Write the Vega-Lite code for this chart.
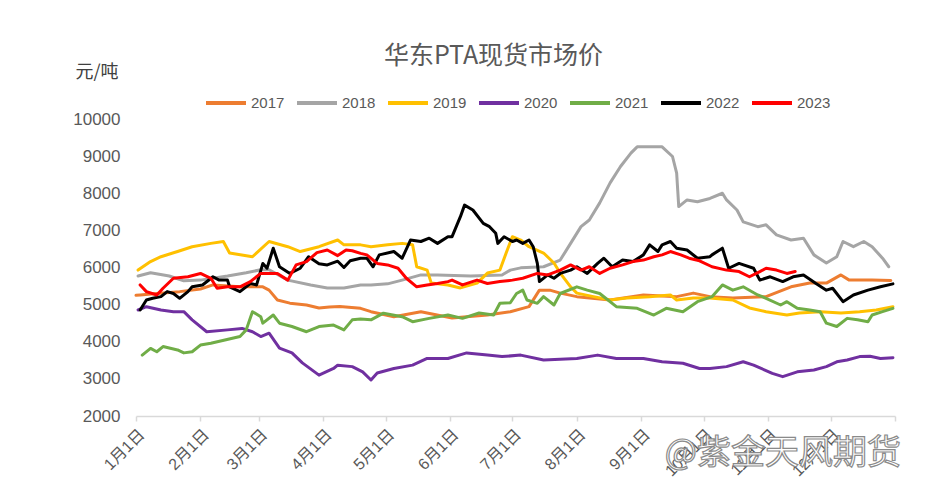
{
  "$schema": "https://vega.github.io/schema/vega-lite/v6.json",
  "autosize": {"type": "none"},
  "width": 759,
  "height": 297,
  "padding": {"left": 136, "top": 119, "right": 43, "bottom": 84},
  "background": "#ffffff",
  "title": {
    "text": "华东PTA现货市场价",
    "font": "Noto Sans CJK SC",
    "fontSize": 25,
    "fontWeight": "normal",
    "color": "#595959",
    "anchor": "middle",
    "frame": "group",
    "dx": -22,
    "offset": -6
  },
  "config": {
    "view": {"stroke": null},
    "font": "Liberation Sans, Noto Sans CJK SC",
    "legend": {
      "orient": "none",
      "legendX": 68,
      "legendY": -38,
      "direction": "horizontal",
      "title": null,
      "symbolType": "stroke",
      "symbolSize": 1600,
      "symbolStrokeWidth": 4,
      "labelFont": "Liberation Sans",
      "labelFontSize": 15,
      "labelColor": "#595959",
      "labelOffset": 3,
      "columnPadding": 4
    }
  },
  "resolve": {"axis": {"x": "independent", "y": "independent"}},
  "datasets": {
    "prices": [
      {"series": "2017", "day": 0, "price": 5250}, {"series": "2017", "day": 2, "price": 5260}, {"series": "2017", "day": 10, "price": 5300}, {"series": "2017", "day": 21, "price": 5350}, {"series": "2017", "day": 31, "price": 5420}, {"series": "2017", "day": 37, "price": 5530}, {"series": "2017", "day": 50, "price": 5480}, {"series": "2017", "day": 61, "price": 5480}, {"series": "2017", "day": 64, "price": 5390}, {"series": "2017", "day": 68, "price": 5125}, {"series": "2017", "day": 74, "price": 5040}, {"series": "2017", "day": 82, "price": 4990}, {"series": "2017", "day": 88, "price": 4910}, {"series": "2017", "day": 93, "price": 4935}, {"series": "2017", "day": 98, "price": 4950}, {"series": "2017", "day": 108, "price": 4900}, {"series": "2017", "day": 113, "price": 4810}, {"series": "2017", "day": 124, "price": 4675}, {"series": "2017", "day": 137, "price": 4810}, {"series": "2017", "day": 152, "price": 4640}, {"series": "2017", "day": 169, "price": 4720}, {"series": "2017", "day": 180, "price": 4810}, {"series": "2017", "day": 189, "price": 4945}, {"series": "2017", "day": 194, "price": 5390}, {"series": "2017", "day": 199, "price": 5390}, {"series": "2017", "day": 204, "price": 5310}, {"series": "2017", "day": 212, "price": 5215}, {"series": "2017", "day": 228, "price": 5125}, {"series": "2017", "day": 244, "price": 5260}, {"series": "2017", "day": 260, "price": 5215}, {"series": "2017", "day": 268, "price": 5310}, {"series": "2017", "day": 276, "price": 5215}, {"series": "2017", "day": 287, "price": 5180}, {"series": "2017", "day": 303, "price": 5215}, {"series": "2017", "day": 315, "price": 5480}, {"series": "2017", "day": 324, "price": 5580}, {"series": "2017", "day": 332, "price": 5580}, {"series": "2017", "day": 339, "price": 5800}, {"series": "2017", "day": 343, "price": 5660}, {"series": "2017", "day": 354, "price": 5660}, {"series": "2017", "day": 363, "price": 5650},

      {"series": "2018", "day": 1, "price": 5770}, {"series": "2018", "day": 7, "price": 5860}, {"series": "2018", "day": 16, "price": 5770}, {"series": "2018", "day": 23, "price": 5640}, {"series": "2018", "day": 31, "price": 5660}, {"series": "2018", "day": 44, "price": 5770}, {"series": "2018", "day": 53, "price": 5860}, {"series": "2018", "day": 60, "price": 5940}, {"series": "2018", "day": 64, "price": 5940}, {"series": "2018", "day": 73, "price": 5660}, {"series": "2018", "day": 84, "price": 5530}, {"series": "2018", "day": 92, "price": 5450}, {"series": "2018", "day": 100, "price": 5450}, {"series": "2018", "day": 108, "price": 5530}, {"series": "2018", "day": 113, "price": 5530}, {"series": "2018", "day": 121, "price": 5560}, {"series": "2018", "day": 128, "price": 5660}, {"series": "2018", "day": 137, "price": 5800}, {"series": "2018", "day": 145, "price": 5800}, {"series": "2018", "day": 161, "price": 5770}, {"series": "2018", "day": 176, "price": 5800}, {"series": "2018", "day": 180, "price": 5930}, {"series": "2018", "day": 185, "price": 5990}, {"series": "2018", "day": 196, "price": 6020}, {"series": "2018", "day": 204, "price": 6200}, {"series": "2018", "day": 209, "price": 6650}, {"series": "2018", "day": 214, "price": 7100}, {"series": "2018", "day": 218, "price": 7280}, {"series": "2018", "day": 223, "price": 7740}, {"series": "2018", "day": 228, "price": 8280}, {"series": "2018", "day": 233, "price": 8720}, {"series": "2018", "day": 238, "price": 9080}, {"series": "2018", "day": 241, "price": 9250}, {"series": "2018", "day": 253, "price": 9250}, {"series": "2018", "day": 258, "price": 8990}, {"series": "2018", "day": 260, "price": 8540}, {"series": "2018", "day": 261, "price": 7640}, {"series": "2018", "day": 265, "price": 7820}, {"series": "2018", "day": 270, "price": 7770}, {"series": "2018", "day": 276, "price": 7860}, {"series": "2018", "day": 282, "price": 8000}, {"series": "2018", "day": 284, "price": 7820}, {"series": "2018", "day": 289, "price": 7550}, {"series": "2018", "day": 292, "price": 7230}, {"series": "2018", "day": 299, "price": 7100}, {"series": "2018", "day": 303, "price": 7150}, {"series": "2018", "day": 308, "price": 6880}, {"series": "2018", "day": 315, "price": 6740}, {"series": "2018", "day": 321, "price": 6790}, {"series": "2018", "day": 326, "price": 6340}, {"series": "2018", "day": 332, "price": 6120}, {"series": "2018", "day": 337, "price": 6290}, {"series": "2018", "day": 340, "price": 6700}, {"series": "2018", "day": 345, "price": 6560}, {"series": "2018", "day": 350, "price": 6700}, {"series": "2018", "day": 354, "price": 6560}, {"series": "2018", "day": 359, "price": 6250}, {"series": "2018", "day": 362, "price": 6020},

      {"series": "2019", "day": 1, "price": 5930}, {"series": "2019", "day": 7, "price": 6160}, {"series": "2019", "day": 12, "price": 6290}, {"series": "2019", "day": 20, "price": 6430}, {"series": "2019", "day": 27, "price": 6560}, {"series": "2019", "day": 36, "price": 6650}, {"series": "2019", "day": 42, "price": 6700}, {"series": "2019", "day": 45, "price": 6390}, {"series": "2019", "day": 56, "price": 6290}, {"series": "2019", "day": 64, "price": 6700}, {"series": "2019", "day": 73, "price": 6560}, {"series": "2019", "day": 79, "price": 6430}, {"series": "2019", "day": 88, "price": 6560}, {"series": "2019", "day": 97, "price": 6740}, {"series": "2019", "day": 100, "price": 6610}, {"series": "2019", "day": 108, "price": 6610}, {"series": "2019", "day": 113, "price": 6560}, {"series": "2019", "day": 121, "price": 6610}, {"series": "2019", "day": 128, "price": 6650}, {"series": "2019", "day": 133, "price": 6610}, {"series": "2019", "day": 135, "price": 6020}, {"series": "2019", "day": 140, "price": 5930}, {"series": "2019", "day": 142, "price": 5580}, {"series": "2019", "day": 150, "price": 5530}, {"series": "2019", "day": 156, "price": 5450}, {"series": "2019", "day": 164, "price": 5580}, {"series": "2019", "day": 169, "price": 5850}, {"series": "2019", "day": 175, "price": 5930}, {"series": "2019", "day": 178, "price": 6390}, {"series": "2019", "day": 181, "price": 6830}, {"series": "2019", "day": 185, "price": 6740}, {"series": "2019", "day": 189, "price": 6560}, {"series": "2019", "day": 196, "price": 6390}, {"series": "2019", "day": 201, "price": 6120}, {"series": "2019", "day": 204, "price": 5850}, {"series": "2019", "day": 209, "price": 5480}, {"series": "2019", "day": 212, "price": 5310}, {"series": "2019", "day": 220, "price": 5215}, {"series": "2019", "day": 228, "price": 5125}, {"series": "2019", "day": 236, "price": 5180}, {"series": "2019", "day": 247, "price": 5215}, {"series": "2019", "day": 257, "price": 5260}, {"series": "2019", "day": 260, "price": 5125}, {"series": "2019", "day": 268, "price": 5180}, {"series": "2019", "day": 276, "price": 5180}, {"series": "2019", "day": 287, "price": 5125}, {"series": "2019", "day": 295, "price": 4910}, {"series": "2019", "day": 303, "price": 4810}, {"series": "2019", "day": 313, "price": 4720}, {"series": "2019", "day": 319, "price": 4775}, {"series": "2019", "day": 329, "price": 4810}, {"series": "2019", "day": 339, "price": 4775}, {"series": "2019", "day": 348, "price": 4810}, {"series": "2019", "day": 356, "price": 4855}, {"series": "2019", "day": 364, "price": 4945},

      {"series": "2020", "day": 1, "price": 4855}, {"series": "2020", "day": 5, "price": 4945}, {"series": "2020", "day": 12, "price": 4855}, {"series": "2020", "day": 18, "price": 4810}, {"series": "2020", "day": 23, "price": 4810}, {"series": "2020", "day": 27, "price": 4590}, {"series": "2020", "day": 34, "price": 4270}, {"series": "2020", "day": 44, "price": 4320}, {"series": "2020", "day": 51, "price": 4360}, {"series": "2020", "day": 56, "price": 4270}, {"series": "2020", "day": 60, "price": 4140}, {"series": "2020", "day": 64, "price": 4230}, {"series": "2020", "day": 69, "price": 3830}, {"series": "2020", "day": 75, "price": 3700}, {"series": "2020", "day": 80, "price": 3430}, {"series": "2020", "day": 88, "price": 3100}, {"series": "2020", "day": 95, "price": 3280}, {"series": "2020", "day": 97, "price": 3370}, {"series": "2020", "day": 104, "price": 3330}, {"series": "2020", "day": 109, "price": 3190}, {"series": "2020", "day": 113, "price": 2970}, {"series": "2020", "day": 116, "price": 3160}, {"series": "2020", "day": 124, "price": 3280}, {"series": "2020", "day": 133, "price": 3370}, {"series": "2020", "day": 140, "price": 3550}, {"series": "2020", "day": 150, "price": 3550}, {"series": "2020", "day": 159, "price": 3700}, {"series": "2020", "day": 169, "price": 3640}, {"series": "2020", "day": 176, "price": 3600}, {"series": "2020", "day": 185, "price": 3640}, {"series": "2020", "day": 196, "price": 3510}, {"series": "2020", "day": 212, "price": 3550}, {"series": "2020", "day": 222, "price": 3640}, {"series": "2020", "day": 231, "price": 3550}, {"series": "2020", "day": 244, "price": 3550}, {"series": "2020", "day": 253, "price": 3460}, {"series": "2020", "day": 263, "price": 3420}, {"series": "2020", "day": 271, "price": 3280}, {"series": "2020", "day": 276, "price": 3280}, {"series": "2020", "day": 284, "price": 3330}, {"series": "2020", "day": 292, "price": 3460}, {"series": "2020", "day": 297, "price": 3370}, {"series": "2020", "day": 306, "price": 3150}, {"series": "2020", "day": 311, "price": 3060}, {"series": "2020", "day": 318, "price": 3190}, {"series": "2020", "day": 326, "price": 3240}, {"series": "2020", "day": 332, "price": 3330}, {"series": "2020", "day": 337, "price": 3460}, {"series": "2020", "day": 342, "price": 3510}, {"series": "2020", "day": 348, "price": 3600}, {"series": "2020", "day": 353, "price": 3610}, {"series": "2020", "day": 358, "price": 3550}, {"series": "2020", "day": 364, "price": 3570},

      {"series": "2021", "day": 3, "price": 3640}, {"series": "2021", "day": 7, "price": 3820}, {"series": "2021", "day": 10, "price": 3730}, {"series": "2021", "day": 13, "price": 3870}, {"series": "2021", "day": 20, "price": 3780}, {"series": "2021", "day": 23, "price": 3700}, {"series": "2021", "day": 27, "price": 3730}, {"series": "2021", "day": 31, "price": 3910}, {"series": "2021", "day": 36, "price": 3960}, {"series": "2021", "day": 50, "price": 4140}, {"series": "2021", "day": 53, "price": 4320}, {"series": "2021", "day": 56, "price": 4810}, {"series": "2021", "day": 60, "price": 4675}, {"series": "2021", "day": 61, "price": 4500}, {"series": "2021", "day": 66, "price": 4720}, {"series": "2021", "day": 69, "price": 4500}, {"series": "2021", "day": 75, "price": 4410}, {"series": "2021", "day": 82, "price": 4270}, {"series": "2021", "day": 88, "price": 4410}, {"series": "2021", "day": 95, "price": 4450}, {"series": "2021", "day": 100, "price": 4320}, {"series": "2021", "day": 104, "price": 4590}, {"series": "2021", "day": 108, "price": 4610}, {"series": "2021", "day": 113, "price": 4590}, {"series": "2021", "day": 119, "price": 4770}, {"series": "2021", "day": 128, "price": 4675}, {"series": "2021", "day": 133, "price": 4540}, {"series": "2021", "day": 141, "price": 4630}, {"series": "2021", "day": 150, "price": 4720}, {"series": "2021", "day": 157, "price": 4630}, {"series": "2021", "day": 165, "price": 4775}, {"series": "2021", "day": 172, "price": 4720}, {"series": "2021", "day": 175, "price": 5035}, {"series": "2021", "day": 180, "price": 5050}, {"series": "2021", "day": 183, "price": 5300}, {"series": "2021", "day": 186, "price": 5390}, {"series": "2021", "day": 188, "price": 5125}, {"series": "2021", "day": 193, "price": 5035}, {"series": "2021", "day": 196, "price": 5215}, {"series": "2021", "day": 201, "price": 4990}, {"series": "2021", "day": 204, "price": 5300}, {"series": "2021", "day": 212, "price": 5480}, {"series": "2021", "day": 217, "price": 5390}, {"series": "2021", "day": 223, "price": 5300}, {"series": "2021", "day": 231, "price": 4945}, {"series": "2021", "day": 241, "price": 4900}, {"series": "2021", "day": 249, "price": 4720}, {"series": "2021", "day": 255, "price": 4900}, {"series": "2021", "day": 263, "price": 4810}, {"series": "2021", "day": 270, "price": 5080}, {"series": "2021", "day": 277, "price": 5215}, {"series": "2021", "day": 282, "price": 5530}, {"series": "2021", "day": 287, "price": 5390}, {"series": "2021", "day": 292, "price": 5480}, {"series": "2021", "day": 299, "price": 5260}, {"series": "2021", "day": 303, "price": 5170}, {"series": "2021", "day": 310, "price": 4990}, {"series": "2021", "day": 313, "price": 5080}, {"series": "2021", "day": 318, "price": 4900}, {"series": "2021", "day": 324, "price": 4855}, {"series": "2021", "day": 329, "price": 4810}, {"series": "2021", "day": 332, "price": 4500}, {"series": "2021", "day": 337, "price": 4410}, {"series": "2021", "day": 342, "price": 4630}, {"series": "2021", "day": 347, "price": 4590}, {"series": "2021", "day": 352, "price": 4540}, {"series": "2021", "day": 354, "price": 4720}, {"series": "2021", "day": 359, "price": 4810}, {"series": "2021", "day": 364, "price": 4900},

      {"series": "2022", "day": 2, "price": 4855}, {"series": "2022", "day": 5, "price": 5125}, {"series": "2022", "day": 8, "price": 5170}, {"series": "2022", "day": 12, "price": 5215}, {"series": "2022", "day": 15, "price": 5350}, {"series": "2022", "day": 18, "price": 5300}, {"series": "2022", "day": 21, "price": 5170}, {"series": "2022", "day": 25, "price": 5350}, {"series": "2022", "day": 27, "price": 5480}, {"series": "2022", "day": 32, "price": 5530}, {"series": "2022", "day": 37, "price": 5750}, {"series": "2022", "day": 40, "price": 5660}, {"series": "2022", "day": 44, "price": 5660}, {"series": "2022", "day": 45, "price": 5480}, {"series": "2022", "day": 50, "price": 5350}, {"series": "2022", "day": 55, "price": 5570}, {"series": "2022", "day": 58, "price": 5530}, {"series": "2022", "day": 61, "price": 6110}, {"series": "2022", "day": 63, "price": 5980}, {"series": "2022", "day": 66, "price": 6520}, {"series": "2022", "day": 69, "price": 6020}, {"series": "2022", "day": 74, "price": 5840}, {"series": "2022", "day": 79, "price": 5980}, {"series": "2022", "day": 83, "price": 6290}, {"series": "2022", "day": 88, "price": 6100}, {"series": "2022", "day": 92, "price": 6070}, {"series": "2022", "day": 97, "price": 6170}, {"series": "2022", "day": 100, "price": 6000}, {"series": "2022", "day": 103, "price": 6180}, {"series": "2022", "day": 108, "price": 6250}, {"series": "2022", "day": 111, "price": 6250}, {"series": "2022", "day": 114, "price": 6020}, {"series": "2022", "day": 117, "price": 6340}, {"series": "2022", "day": 124, "price": 6430}, {"series": "2022", "day": 128, "price": 6250}, {"series": "2022", "day": 132, "price": 6740}, {"series": "2022", "day": 137, "price": 6700}, {"series": "2022", "day": 141, "price": 6790}, {"series": "2022", "day": 145, "price": 6650}, {"series": "2022", "day": 150, "price": 6830}, {"series": "2022", "day": 152, "price": 6830}, {"series": "2022", "day": 156, "price": 7370}, {"series": "2022", "day": 158, "price": 7680}, {"series": "2022", "day": 162, "price": 7550}, {"series": "2022", "day": 167, "price": 7190}, {"series": "2022", "day": 170, "price": 7100}, {"series": "2022", "day": 173, "price": 6920}, {"series": "2022", "day": 174, "price": 6650}, {"series": "2022", "day": 177, "price": 6830}, {"series": "2022", "day": 181, "price": 6700}, {"series": "2022", "day": 183, "price": 6740}, {"series": "2022", "day": 186, "price": 6650}, {"series": "2022", "day": 189, "price": 6740}, {"series": "2022", "day": 191, "price": 6560}, {"series": "2022", "day": 193, "price": 6110}, {"series": "2022", "day": 194, "price": 5620}, {"series": "2022", "day": 198, "price": 5800}, {"series": "2022", "day": 201, "price": 5710}, {"series": "2022", "day": 204, "price": 5840}, {"series": "2022", "day": 209, "price": 5930}, {"series": "2022", "day": 212, "price": 6020}, {"series": "2022", "day": 217, "price": 5840}, {"series": "2022", "day": 222, "price": 6110}, {"series": "2022", "day": 225, "price": 6250}, {"series": "2022", "day": 229, "price": 6020}, {"series": "2022", "day": 234, "price": 6200}, {"series": "2022", "day": 239, "price": 6160}, {"series": "2022", "day": 244, "price": 6340}, {"series": "2022", "day": 247, "price": 6610}, {"series": "2022", "day": 251, "price": 6430}, {"series": "2022", "day": 253, "price": 6610}, {"series": "2022", "day": 257, "price": 6700}, {"series": "2022", "day": 260, "price": 6520}, {"series": "2022", "day": 265, "price": 6470}, {"series": "2022", "day": 270, "price": 6250}, {"series": "2022", "day": 276, "price": 6290}, {"series": "2022", "day": 277, "price": 6340}, {"series": "2022", "day": 282, "price": 6520}, {"series": "2022", "day": 285, "price": 5980}, {"series": "2022", "day": 290, "price": 6110}, {"series": "2022", "day": 297, "price": 5980}, {"series": "2022", "day": 300, "price": 5660}, {"series": "2022", "day": 305, "price": 5750}, {"series": "2022", "day": 311, "price": 5620}, {"series": "2022", "day": 316, "price": 5750}, {"series": "2022", "day": 321, "price": 5800}, {"series": "2022", "day": 327, "price": 5570}, {"series": "2022", "day": 332, "price": 5390}, {"series": "2022", "day": 335, "price": 5440}, {"series": "2022", "day": 340, "price": 5080}, {"series": "2022", "day": 345, "price": 5260}, {"series": "2022", "day": 352, "price": 5390}, {"series": "2022", "day": 358, "price": 5480}, {"series": "2022", "day": 364, "price": 5560},

      {"series": "2023", "day": 2, "price": 5530}, {"series": "2023", "day": 5, "price": 5350}, {"series": "2023", "day": 10, "price": 5260}, {"series": "2023", "day": 13, "price": 5440}, {"series": "2023", "day": 18, "price": 5710}, {"series": "2023", "day": 25, "price": 5750}, {"series": "2023", "day": 31, "price": 5840}, {"series": "2023", "day": 36, "price": 5710}, {"series": "2023", "day": 39, "price": 5440}, {"series": "2023", "day": 44, "price": 5480}, {"series": "2023", "day": 50, "price": 5480}, {"series": "2023", "day": 55, "price": 5620}, {"series": "2023", "day": 60, "price": 5840}, {"series": "2023", "day": 68, "price": 5840}, {"series": "2023", "day": 73, "price": 5660}, {"series": "2023", "day": 77, "price": 6070}, {"series": "2023", "day": 82, "price": 6160}, {"series": "2023", "day": 87, "price": 6400}, {"series": "2023", "day": 92, "price": 6470}, {"series": "2023", "day": 97, "price": 6320}, {"series": "2023", "day": 101, "price": 6470}, {"series": "2023", "day": 104, "price": 6450}, {"series": "2023", "day": 108, "price": 6380}, {"series": "2023", "day": 111, "price": 6340}, {"series": "2023", "day": 116, "price": 6110}, {"series": "2023", "day": 121, "price": 6070}, {"series": "2023", "day": 126, "price": 5980}, {"series": "2023", "day": 130, "price": 5710}, {"series": "2023", "day": 135, "price": 5480}, {"series": "2023", "day": 140, "price": 5530}, {"series": "2023", "day": 145, "price": 5570}, {"series": "2023", "day": 150, "price": 5620}, {"series": "2023", "day": 152, "price": 5660}, {"series": "2023", "day": 157, "price": 5530}, {"series": "2023", "day": 164, "price": 5660}, {"series": "2023", "day": 169, "price": 5570}, {"series": "2023", "day": 175, "price": 5620}, {"series": "2023", "day": 181, "price": 5660}, {"series": "2023", "day": 186, "price": 5710}, {"series": "2023", "day": 193, "price": 5840}, {"series": "2023", "day": 198, "price": 5800}, {"series": "2023", "day": 204, "price": 5930}, {"series": "2023", "day": 209, "price": 6070}, {"series": "2023", "day": 214, "price": 5930}, {"series": "2023", "day": 218, "price": 6020}, {"series": "2023", "day": 223, "price": 5840}, {"series": "2023", "day": 228, "price": 5980}, {"series": "2023", "day": 234, "price": 6070}, {"series": "2023", "day": 239, "price": 6160}, {"series": "2023", "day": 244, "price": 6200}, {"series": "2023", "day": 249, "price": 6290}, {"series": "2023", "day": 253, "price": 6340}, {"series": "2023", "day": 257, "price": 6430}, {"series": "2023", "day": 262, "price": 6340}, {"series": "2023", "day": 266, "price": 6250}, {"series": "2023", "day": 271, "price": 6180}, {"series": "2023", "day": 277, "price": 6020}, {"series": "2023", "day": 284, "price": 5930}, {"series": "2023", "day": 290, "price": 5890}, {"series": "2023", "day": 295, "price": 5750}, {"series": "2023", "day": 300, "price": 5890}, {"series": "2023", "day": 303, "price": 5980}, {"series": "2023", "day": 308, "price": 5930}, {"series": "2023", "day": 313, "price": 5840}, {"series": "2023", "day": 317, "price": 5890}
    ]
  },
  "layer": [
    {
      "data": {"name": "prices"},
      "mark": {"type": "line", "strokeWidth": 3, "strokeJoin": "round", "strokeCap": "round"},
      "encoding": {
        "x": {
          "field": "day",
          "type": "quantitative",
          "scale": {"domain": [0, 365], "nice": false, "zero": false},
          "axis": {
            "title": null,
            "values": [0, 31, 59, 90, 120, 151, 181, 212, 243, 273, 304, 334, 365],
            "labelExpr": "datum.value >= 365 ? '' : (indexof([0, 31, 59, 90, 120, 151, 181, 212, 243, 273, 304, 334], datum.value) + 1) + '月1日'",
            "labelAngle": -45,
            "labelFontSize": 16,
            "labelColor": "#595959",
            "labelFont": "Liberation Sans, Noto Sans CJK SC",
            "labelPadding": 5,
            "labelFlush": false,
            "labelOverlap": false,
            "grid": false,
            "domainColor": "#D9D9D9",
            "domainWidth": 1.5,
            "tickColor": "#D9D9D9",
            "tickWidth": 1.5,
            "tickSize": 5
          }
        },
        "y": {
          "field": "price",
          "type": "quantitative",
          "scale": {"domain": [2000, 10000], "nice": false, "zero": false},
          "axis": {
            "title": "元/吨",
            "titleAngle": 0,
            "titleAlign": "left",
            "titleBaseline": "middle",
            "titleX": -61,
            "titleY": -47,
            "titleFont": "Noto Sans CJK SC",
            "titleFontSize": 18,
            "titleFontWeight": "normal",
            "titleColor": "#404040",
            "values": [2000, 3000, 4000, 5000, 6000, 7000, 8000, 9000, 10000],
            "format": "d",
            "labelOverlap": false,
            "labelFontSize": 17,
            "labelColor": "#595959",
            "labelPadding": 16,
            "grid": false,
            "domain": false,
            "ticks": false,
            "tickSize": 0
          }
        },
        "color": {
          "field": "series",
          "type": "nominal",
          "scale": {
            "domain": ["2017", "2018", "2019", "2020", "2021", "2022", "2023"],
            "range": ["#ED7D31", "#A5A5A5", "#FFC000", "#7030A0", "#70AD47", "#000000", "#FF0000"]
          }
        }
      }
    },
    {
      "data": {"values": [{}]},
      "mark": {
        "type": "text",
        "text": "@紫金天风期货",
        "font": "Noto Sans CJK SC",
        "fontSize": 34,
        "align": "right",
        "baseline": "middle",
        "dx": 6,
        "dy": 38,
        "fill": "#ffffff",
        "stroke": "#8a8a8a",
        "strokeWidth": 1.2
      },
      "encoding": {
        "x": {"datum": 365, "type": "quantitative", "axis": null},
        "y": {"datum": 2000, "type": "quantitative", "axis": null}
      }
    }
  ]
}
